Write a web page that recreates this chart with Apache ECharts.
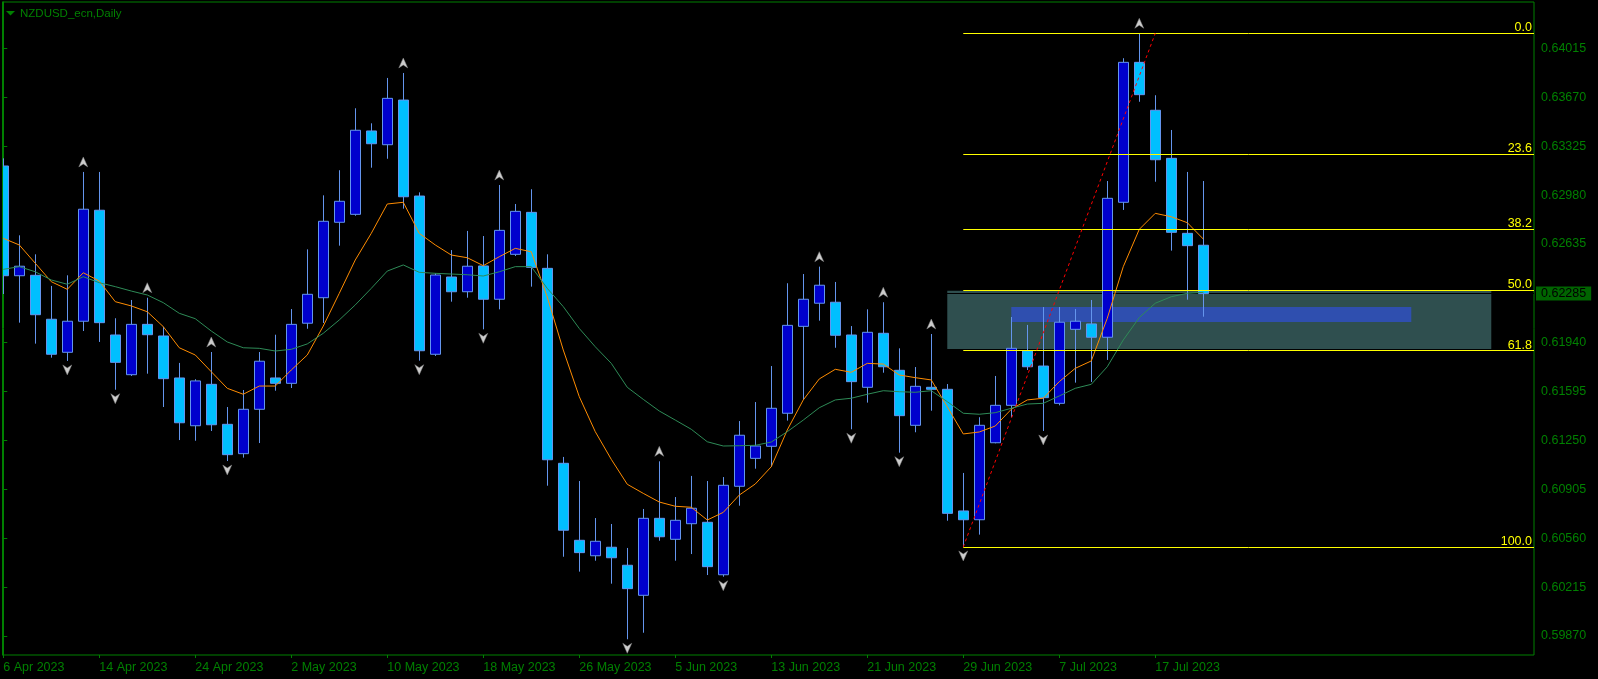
<!DOCTYPE html>
<html>
<head>
<meta charset="utf-8">
<style>html,body{margin:0;padding:0;background:#000;}#c{width:1598px;height:679px;}</style>
<script src="https://cdn.jsdelivr.net/npm/echarts@6/dist/echarts.min.js"></script>
</head>
<body>
<div id="c"></div>
<script>
const dates = ['6 Apr 2023','7 Apr 2023','10 Apr 2023','11 Apr 2023','12 Apr 2023','13 Apr 2023','14 Apr 2023','17 Apr 2023','18 Apr 2023','19 Apr 2023',
'20 Apr 2023','21 Apr 2023','24 Apr 2023','25 Apr 2023','26 Apr 2023','27 Apr 2023','28 Apr 2023','1 May 2023','2 May 2023','3 May 2023',
'4 May 2023','5 May 2023','8 May 2023','9 May 2023','10 May 2023','11 May 2023','12 May 2023','15 May 2023','16 May 2023','17 May 2023',
'18 May 2023','19 May 2023','22 May 2023','23 May 2023','24 May 2023','25 May 2023','26 May 2023','29 May 2023','30 May 2023','31 May 2023',
'1 Jun 2023','2 Jun 2023','5 Jun 2023','6 Jun 2023','7 Jun 2023','8 Jun 2023','9 Jun 2023','12 Jun 2023','13 Jun 2023','14 Jun 2023',
'15 Jun 2023','16 Jun 2023','19 Jun 2023','20 Jun 2023','21 Jun 2023','22 Jun 2023','23 Jun 2023','26 Jun 2023','27 Jun 2023','28 Jun 2023',
'29 Jun 2023','30 Jun 2023','3 Jul 2023','4 Jul 2023','5 Jul 2023','6 Jul 2023','7 Jul 2023','10 Jul 2023','11 Jul 2023','12 Jul 2023',
'13 Jul 2023','14 Jul 2023','17 Jul 2023','18 Jul 2023','19 Jul 2023','20 Jul 2023'];

const openP = [0.63185,0.62411,0.62414,0.62104,0.61871,0.62090,0.62873,0.61993,0.61713,0.62068,
0.61986,0.61690,0.61353,0.61645,0.61363,0.61156,0.61469,0.61690,0.61652,0.62076,
0.62256,0.62788,0.62844,0.63432,0.63335,0.63650,0.62973,0.61857,0.62402,0.62298,
0.62480,0.62245,0.62562,0.62858,0.62463,0.61088,0.60545,0.60436,0.60496,0.60369,
0.60157,0.60700,0.60552,0.60662,0.60672,0.60302,0.60926,0.61123,0.61208,0.61441,
0.62054,0.62217,0.62224,0.61993,0.61624,0.62005,0.61744,0.61356,0.61624,0.61610,
0.60752,0.60690,0.61233,0.61497,0.61882,0.61774,0.61511,0.62033,0.62071,0.61977,
0.62929,0.63916,0.63578,0.63239,0.62710,0.62626];

const closeP = [0.62411,0.62478,0.62136,0.61857,0.62090,0.62880,0.62080,0.61800,0.62068,0.61995,
0.61685,0.61374,0.61669,0.61360,0.61149,0.61469,0.61808,0.61652,0.62068,0.62280,
0.62795,0.62936,0.63437,0.63342,0.63662,0.62968,0.61882,0.62416,0.62298,0.62478,
0.62245,0.62731,0.62865,0.62470,0.61113,0.60616,0.60458,0.60538,0.60422,0.60204,
0.60700,0.60570,0.60686,0.60771,0.60359,0.60933,0.61286,0.61210,0.61476,0.62061,
0.62245,0.62344,0.61991,0.61664,0.62012,0.61769,0.61424,0.61631,0.61610,0.60735,
0.60690,0.61356,0.61497,0.61899,0.61769,0.61551,0.62083,0.62090,0.61977,0.62957,
0.63916,0.63688,0.63229,0.62717,0.62623,0.62285];

const lowP = [0.62282,0.62080,0.61932,0.61833,0.61810,0.62021,0.61944,0.61607,0.61704,0.61720,
0.61485,0.61252,0.61247,0.61316,0.61104,0.61128,0.61231,0.61600,0.61619,0.62037,
0.62078,0.62623,0.62834,0.63173,0.63236,0.62884,0.61812,0.61845,0.62228,0.62256,
0.62033,0.62174,0.62550,0.62334,0.60930,0.60429,0.60324,0.60401,0.60239,0.59847,
0.59893,0.60542,0.60401,0.60448,0.60300,0.60288,0.60789,0.61050,0.61064,0.61389,
0.61535,0.62094,0.61903,0.61328,0.61516,0.61727,0.61163,0.61307,0.61459,0.60683,
0.60498,0.60585,0.61229,0.61413,0.61746,0.61316,0.61497,0.61657,0.61662,0.61817,
0.62875,0.63638,0.63074,0.62588,0.62242,0.62122];

const highP = [0.63239,0.62696,0.62562,0.62339,0.62414,0.63143,0.63143,0.62111,0.62240,0.62256,
0.62052,0.61796,0.61681,0.61873,0.61485,0.61605,0.61873,0.61995,0.62176,0.62597,
0.62978,0.63155,0.63592,0.63486,0.63806,0.63841,0.62999,0.62428,0.62592,0.62727,
0.62691,0.63051,0.62917,0.63021,0.62562,0.61133,0.60963,0.60702,0.60660,0.60491,
0.60766,0.61102,0.60850,0.60999,0.60963,0.60991,0.61386,0.61520,0.61774,0.62358,
0.62423,0.62475,0.62367,0.62056,0.62174,0.62224,0.61899,0.61767,0.62000,0.61647,
0.61020,0.61413,0.61704,0.62120,0.62064,0.62190,0.62190,0.62176,0.62240,0.63079,
0.63945,0.64121,0.63684,0.63439,0.63143,0.63079];

const maFast = [0.62675,0.62628,0.62499,0.62369,0.62315,0.62432,0.62374,0.62228,0.62198,0.62157,
0.62052,0.61903,0.61852,0.61734,0.61617,0.61575,0.61633,0.61633,0.61746,0.61852,
0.62056,0.62287,0.62522,0.62710,0.62917,0.62929,0.62710,0.62628,0.62557,0.62538,
0.62482,0.62545,0.62604,0.62580,0.62261,0.61887,0.61558,0.61311,0.61116,0.60940,
0.60876,0.60815,0.60785,0.60778,0.60688,0.60742,0.60864,0.60942,0.61064,0.61323,
0.61535,0.61683,0.61751,0.61730,0.61793,0.61788,0.61711,0.61692,0.61676,0.61487,
0.61295,0.61309,0.61351,0.61469,0.61535,0.61547,0.61664,0.61758,0.61810,0.62111,
0.62475,0.62738,0.62851,0.62827,0.62785,0.62670];

const maSlow = [0.62456,0.62475,0.62439,0.62381,0.62351,0.62404,0.62362,0.62334,0.62303,0.62275,
0.62221,0.62146,0.62108,0.62021,0.61944,0.61903,0.61899,0.61880,0.61892,0.61930,
0.62005,0.62099,0.62205,0.62322,0.62444,0.62487,0.62435,0.62428,0.62423,0.62418,
0.62409,0.62439,0.62475,0.62475,0.62322,0.62193,0.62039,0.61910,0.61793,0.61624,
0.61539,0.61457,0.61393,0.61328,0.61240,0.61210,0.61212,0.61215,0.61238,0.61311,
0.61393,0.61480,0.61535,0.61547,0.61575,0.61600,0.61593,0.61589,0.61600,0.61523,
0.61441,0.61434,0.61445,0.61476,0.61506,0.61511,0.61563,0.61617,0.61645,0.61769,
0.61958,0.62116,0.62217,0.62263,0.62287,0.62294];

const fractalUp = [5,9,13,25,31,41,51,55,58,71];
const fractalDown = [4,7,14,26,30,39,45,53,56,60,65];

const xLabelIndex = [0,6,12,18,24,30,36,42,48,54,60,66,72];
const yTicks = [0.59870,0.60215,0.60560,0.60905,0.61250,0.61595,0.61940,0.62635,0.62980,0.63325,0.63670,0.64015];

const fibLevels = [0.0, 23.6, 38.2, 50.0, 61.8, 100.0];
const fibStartBar = 60, fibEndBar = 72;
const fibHigh = 0.64121, fibLow = 0.60498;
const bidPrice = 0.62285;
// rectangles: [startBar, endBar, topPrice, bottomPrice]
const zoneRect = [59, 93, 0.62305, 0.61894];
const bandRect = [63, 88, 0.62191, 0.62085];
const rectColors = ['#2F4F4F', '#2F4FAF'];

const X_MIN = -0.08, X_MAX = 95.67;
const FONT = 'Liberation Sans';
const GREEN = '#008000';

const chart = echarts.init(document.getElementById('c'), null, {renderer: 'canvas'});

const candleData = dates.map((d, i) => [i, openP[i], closeP[i], lowP[i], highP[i]]);
const fibData = fibLevels.map(l => {
  const p = fibHigh - (fibHigh - fibLow) * l / 100;
  return [
    {coord: [fibStartBar, p], lineStyle: {color: '#FFFF00', width: 1, type: 'solid'},
     label: {show: true, position: 'insideEndTop', formatter: l.toFixed(1), color: '#FFFF00',
             fontSize: 12.5, fontFamily: FONT, lineHeight: 13, distance: [2, -1]}},
    {coord: [X_MAX, p]}
  ];
});
fibData.push([
  {coord: [fibStartBar, fibLow], lineStyle: {color: '#FF0000', width: 1, type: [3, 3]}, label: {show: false}},
  {coord: [fibEndBar, fibHigh]}
]);

const upArrow = 'path://M5,0 L10,10 L5,7 L0,10 Z';
const downArrow = 'path://M0,0 L5,3 L10,0 L5,10 Z';

const option = {
  backgroundColor: '#000000',
  animation: false,
  title: {
    text: 'NZDUSD_ecn,Daily', left: 20, top: 8, padding: 0,
    textStyle: {color: GREEN, fontSize: 11.5, fontWeight: 'normal', fontFamily: FONT}
  },
  graphic: [
    {type: 'polygon', shape: {points: [[6, 11], [15, 11], [10.5, 15.5]]}, style: {fill: GREEN}},
    {type: 'rect', z: 100, shape: {x: 0, y: 0, width: 2, height: 657}, style: {fill: '#000000'}},
    {type: 'line', z: 101, shape: {x1: 2.5, y1: 2, x2: 2.5, y2: 655}, style: {stroke: GREEN, lineWidth: 1}}
  ],
  grid: {left: 2, right: 64, top: 2, bottom: 24, show: true, borderColor: GREEN, borderWidth: 1,
         backgroundColor: '#000000', containLabel: false, outerBoundsMode: 'none'},
  xAxis: {
    type: 'value', min: X_MIN, max: X_MAX,
    axisLine: {show: false}, splitLine: {show: false},
    axisTick: {show: true, customValues: xLabelIndex, length: 3, lineStyle: {color: GREEN}},
    axisLabel: {customValues: xLabelIndex, formatter: v => dates[Math.round(v)], align: 'left',
                margin: 6, color: GREEN, fontSize: 12.5, fontFamily: FONT}
  },
  yAxis: {
    type: 'value', position: 'right', min: 0.59736, max: 0.643416,
    splitLine: {show: false},
    axisLine: {show: true, lineStyle: {color: GREEN}},
    axisTick: {show: true, customValues: yTicks, length: 4, lineStyle: {color: GREEN}},
    axisLabel: {customValues: yTicks, formatter: v => v.toFixed(5), margin: 7,
                color: GREEN, fontSize: 12.5, fontFamily: FONT}
  },
  series: [
    {
      name: 'zones', type: 'custom', z: 0, silent: true, clip: true,
      data: [zoneRect, bandRect].map((r, k) => [r[0], r[2], r[1], r[3], k]),
      encode: {x: [0, 2], y: [1, 3]},
      renderItem: (params, api) => {
        const p0 = api.coord([api.value(0), api.value(1)]);
        const p1 = api.coord([api.value(2), api.value(3)]);
        return {type: 'rect', shape: {x: p0[0], y: p0[1], width: p1[0] - p0[0], height: p1[1] - p0[1]},
                style: {fill: rectColors[api.value(4)]}};
      }
    },
    {
      name: 'bid', type: 'line', z: 1, silent: true, symbol: 'none', clip: false,
      data: [],
      markLine: {
        z: 1, silent: true, symbol: ['none', 'none'],
        data: [[
          {coord: [X_MIN, bidPrice], lineStyle: {color: '#000000', width: 1, type: 'solid'},
           label: {show: true, position: 'end', distance: 2, formatter: bidPrice.toFixed(5),
                   color: '#000000', backgroundColor: '#006400', padding: [1, 5, 0, 5],
                   fontSize: 12.5, fontFamily: FONT, lineHeight: 13}},
          {coord: [X_MAX, bidPrice]}
        ]]
      }
    },
    {
      name: 'price', type: 'candlestick', z: 2, silent: true, barWidth: 10, clip: true,
      data: candleData,
      itemStyle: {color: '#0000CD', color0: '#00BFFF', borderColor: '#6495ED', borderColor0: '#6495ED', borderWidth: 1}
    },
    {
      name: 'maFast', type: 'line', z: 3, silent: true, symbol: 'none',
      data: maFast.map((v, i) => [i, v]), lineStyle: {color: '#FF8C00', width: 1}
    },
    {
      name: 'maSlow', type: 'line', z: 3, silent: true, symbol: 'none',
      data: maSlow.map((v, i) => [i, v]), lineStyle: {color: '#2E8B57', width: 1}
    },
    {
      name: 'fibo', type: 'line', z: 4, silent: true, symbol: 'none', clip: false,
      data: [],
      markLine: {silent: true, symbol: ['none', 'none'], data: fibData}
    },
    {
      name: 'fractalUp', type: 'scatter', z: 5, silent: true, symbol: upArrow, symbolSize: [9, 10], symbolOffset: [0, -10],
      data: fractalUp.map(i => [i, highP[i]]),
      itemStyle: {color: '#FFFFFF', borderColor: '#808080', borderWidth: 0.6}
    },
    {
      name: 'fractalDown', type: 'scatter', z: 5, silent: true, symbol: downArrow, symbolSize: [9, 10], symbolOffset: [0, 9],
      data: fractalDown.map(i => [i, lowP[i]]),
      itemStyle: {color: '#FFFFFF', borderColor: '#808080', borderWidth: 0.6}
    }
  ]
};
chart.setOption(option);
</script>
</body>
</html>
